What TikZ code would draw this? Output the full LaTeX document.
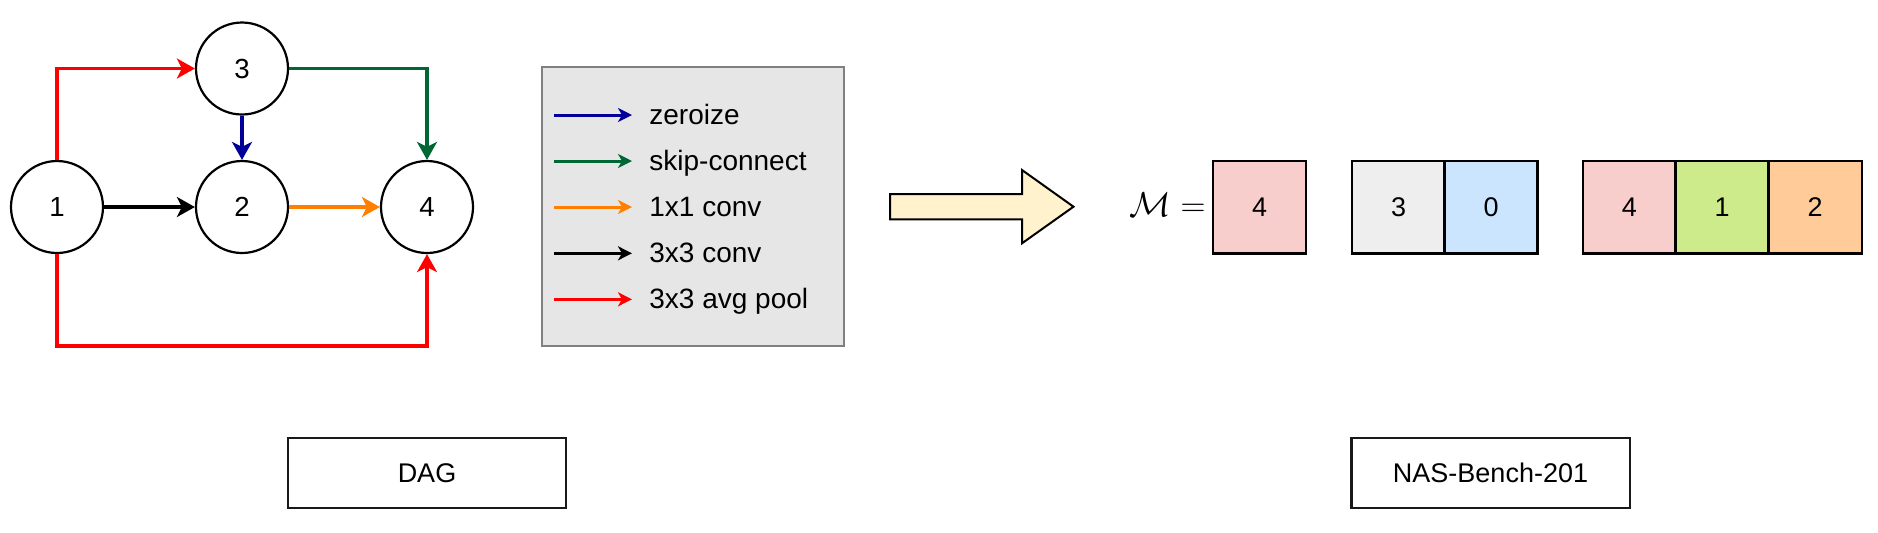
\documentclass[tikz,border=0pt]{standalone}
\usepackage{fontspec}
\setmainfont{Liberation Sans}
\usetikzlibrary{arrows.meta}
\definecolor{cred}{HTML}{FF0000}
\definecolor{cgreen}{HTML}{006633}
\definecolor{cblue}{HTML}{000099}
\definecolor{corange}{HTML}{FF8000}
\definecolor{legfill}{HTML}{E6E6E6}
\definecolor{legdraw}{HTML}{808080}
\definecolor{arrfill}{HTML}{FFF2CC}
\definecolor{cpink}{HTML}{F8CECC}
\definecolor{cgray}{HTML}{EEEEEE}
\definecolor{clblue}{HTML}{CCE5FF}
\definecolor{clgreen}{HTML}{CDEB8B}
\definecolor{clorange}{HTML}{FFCC99}
\tikzset{
  gnode/.style={circle, draw=black, line width=1.1pt, fill=white, minimum size=46pt, inner sep=0pt,
    font=\fontsize{13.8}{15}\selectfont},
  edge/.style={line width=1.9pt, -{Stealth[length=9pt,width=10pt,inset=2.5pt]}},
  legarrow/.style={line width=1.5pt, -{Stealth[length=7pt,width=7pt,inset=2pt]}},
  legtext/.style={anchor=base west, inner sep=0pt, font=\fontsize{14}{16}\selectfont},
  legbox/.style={draw=legdraw, fill=legfill, line width=1pt, inner sep=0pt},
  cell/.style={draw=black, line width=1.2pt, minimum width=46.5pt, minimum height=46.3pt, inner sep=0pt, outer sep=0pt,
    font=\fontsize{13.5}{15}\selectfont},
  labbox/.style={draw=black!90, line width=1.2pt, minimum width=139.2pt, minimum height=35pt, inner sep=0pt,
    font=\fontsize{13.5}{15}\selectfont},
}
\begin{document}
\begin{tikzpicture}[x=0.5pt,y=-0.5pt]
\useasboundingbox (0,0) rectangle (1878,532);
% DAG nodes
\node[gnode] (n1) at (57,207) {1};
\node[gnode] (n3) at (242,68.5) {3};
\node[gnode] (n2) at (242,207) {2};
\node[gnode] (n4) at (427,207) {4};
\coordinate (bot) at (0,346);
% DAG edges
\draw[edge, cred] (n1.north) |- (n3.west);
\draw[edge, cred] (n1.south) -- (n1.south |- bot) -| (n4.south);
\draw[edge, cgreen] (n3.east) -| (n4.north);
\draw[edge, cblue] (n3) -- (n2);
\draw[edge, black] (n1) -- (n2);
\draw[edge, corange] (n2) -- (n4);
% legend
\node[legbox, minimum width=150.8pt, minimum height=139.2pt] (leg) at (693.1,206.5) {};
\coordinate (l1) at (554,115);
\coordinate (l2) at (554,161);
\coordinate (l3) at (554,207);
\coordinate (l4) at (554,253.3);
\coordinate (l5) at (554,299.3);
\draw[legarrow, cblue] (l1) -- ++(78,0);
\draw[legarrow, cgreen] (l2) -- ++(78,0);
\draw[legarrow, corange] (l3) -- ++(78,0);
\draw[legarrow, black] (l4) -- ++(78,0);
\draw[legarrow, cred] (l5) -- ++(78,0);
\node[legtext] (t1) at (649,124.5) {zeroize};
\node[legtext] (t2) at (649,170.5) {skip-connect};
\node[legtext] (t3) at (649,216.5) {1x1 conv};
\node[legtext] (t4) at (649,262.8) {3x3 conv};
\node[legtext] (t5) at (649,308.8) {3x3 avg pool};
% big arrow
\draw[line width=1pt, fill=arrfill] (890,194) -- (1022,194) -- (1022,170) -- (1073.5,206.7)
  -- (1022,243.3) -- (1022,219.3) -- (890,219.3) -- cycle;
% matrix cells
\node[anchor=base east, inner sep=0pt, font=\fontsize{18}{20}\selectfont] (mlab) at (1206,216) {$\mathcal{M} =$};
\node[cell, fill=cpink] (c1) at (1259.6,207) {4};
\node[cell, fill=cgray] (c2) at (1398.5,207) {3};
\node[cell, fill=clblue] (c3) at (1491,207) {0};
\node[cell, fill=cpink] (c4) at (1629.3,207) {4};
\node[cell, fill=clgreen] (c5) at (1722.1,207) {1};
\node[cell, fill=clorange] (c6) at (1815.2,207) {2};
% labels
\node[labbox] (dag) at (427,472.7) {DAG};
\node[labbox] (nas) at (1490.5,473) {NAS-Bench-201};
\end{tikzpicture}
\end{document}
